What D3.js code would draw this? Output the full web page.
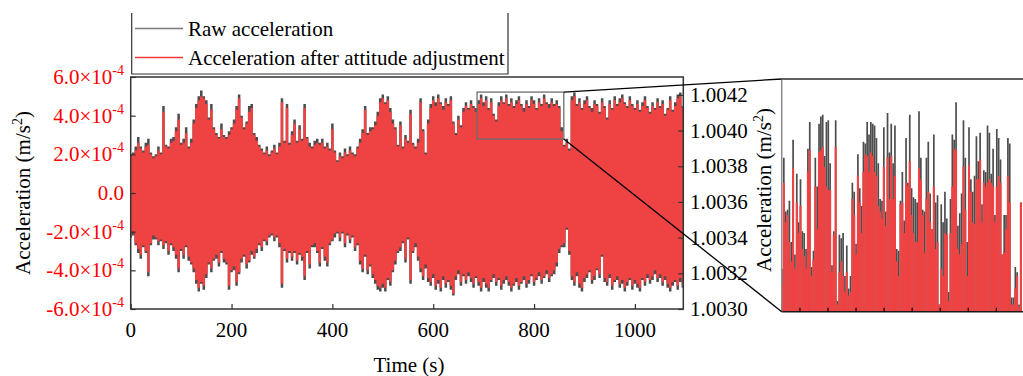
<!DOCTYPE html>
<html><head><meta charset="utf-8">
<script src="https://cdn.jsdelivr.net/npm/d3@7"></script>
<style>
body{margin:0;background:#fff}
text{font-family:"Liberation Serif","Times New Roman",serif}
</style>
</head><body>
<svg id="c" width="1023" height="376"></svg>
<script>
// ---------- DATA ----------
const unit = 1e-4;          // envelope values below are in units of 1e-4 m/s^2
const tStep = 5;            // seconds between envelope samples
const seriesNames = ["Raw acceleration", "Acceleration after attitude adjustment"];
// Upper / lower envelopes of the adjusted (red) signal
const adjUpper = [
1.9,2.0,2.2,2.6,2.3,2.1,2.4,2.5,2.0,1.8,
1.9,2.2,2.0,4.2,2.4,2.3,2.6,2.7,3.2,3.8,
2.5,2.6,3.1,2.3,2.6,3.6,4.4,4.8,5.0,4.9,
4.6,3.8,4.3,3.3,3.0,2.8,3.3,2.9,2.8,3.0,
3.3,3.6,4.3,4.9,3.9,3.3,3.6,4.2,4.4,3.0,
2.7,2.4,2.2,2.0,2.2,1.9,2.1,2.3,2.0,2.4,
4.7,2.6,4.4,2.5,3.0,3.6,2.6,3.3,2.7,4.4,
2.8,2.4,2.3,2.5,2.6,2.5,2.6,2.3,2.4,2.2,
3.3,2.1,1.6,1.9,1.8,2.1,1.9,2.2,2.0,1.9,
2.3,2.6,3.1,4.3,3.0,3.2,3.3,3.5,4.0,4.7,
4.9,4.6,4.8,4.2,3.6,3.3,2.4,3.5,2.3,2.8,
2.6,4.1,2.5,2.3,2.6,4.7,3.2,2.0,3.6,4.4,
4.8,4.5,4.9,4.6,4.3,4.7,4.5,4.8,3.6,3.0,
3.8,3.4,4.2,4.5,4.3,4.6,4.4,4.2,4.6,4.9,
4.5,4.8,4.3,4.7,4.0,3.7,4.5,4.8,4.6,4.9,
4.5,4.7,4.4,4.6,4.8,4.5,4.2,4.6,4.4,4.8,
4.6,4.3,4.7,4.5,4.9,4.6,4.4,4.7,4.5,4.6,
4.4,3.2,2.4,2.6,2.2,4.8,5.0,4.5,4.7,4.3,
4.6,4.8,4.4,4.2,4.6,4.5,4.1,4.7,4.4,3.8,
4.6,4.3,4.8,4.5,4.7,4.9,4.6,4.4,4.8,4.5,
4.3,4.6,4.2,4.5,4.8,4.4,4.1,4.5,4.3,4.7,
4.4,4.6,4.0,4.3,4.8,4.2,4.5,4.9,5.0,4.4];
const adjLower = [
-2.2,-2.0,-2.6,-2.9,-3.2,-2.7,-3.0,-4.1,-2.6,-2.2,
-2.3,-2.5,-2.4,-2.7,-2.5,-3.0,-2.6,-2.8,-3.2,-3.9,
-2.9,-3.2,-2.7,-3.3,-3.6,-3.9,-4.5,-4.9,-4.6,-4.8,
-4.2,-3.6,-3.9,-3.4,-3.2,-3.6,-3.0,-3.4,-3.6,-4.8,
-4.0,-3.8,-4.6,-4.1,-3.4,-3.2,-3.7,-3.5,-3.0,-3.3,
-2.9,-2.6,-2.8,-2.4,-2.5,-2.2,-2.1,-2.3,-2.2,-2.6,
-4.7,-2.9,-3.4,-3.0,-3.3,-3.0,-3.5,-3.1,-3.3,-4.3,
-3.0,-3.7,-2.7,-2.6,-3.0,-3.6,-2.8,-3.3,-3.6,-2.6,
-2.4,-2.1,-2.0,-2.3,-2.0,-2.6,-2.1,-2.4,-2.2,-2.8,
-2.6,-3.5,-3.9,-3.2,-4.0,-3.7,-4.2,-4.5,-4.8,-4.9,
-4.7,-4.9,-4.4,-4.6,-4.0,-3.5,-3.0,-2.8,-2.5,-3.4,
-2.3,-4.5,-3.0,-2.6,-3.3,-3.9,-4.3,-3.7,-4.4,-4.6,
-4.2,-4.8,-4.5,-4.9,-4.3,-4.7,-4.5,-4.8,-5.2,-4.3,
-4.0,-4.6,-4.2,-4.5,-4.1,-4.4,-4.7,-4.3,-4.6,-4.9,
-4.4,-4.7,-4.9,-4.5,-4.2,-4.6,-4.4,-4.8,-4.5,-4.3,
-4.6,-4.9,-4.7,-4.4,-4.8,-4.6,-4.3,-4.7,-4.5,-4.2,
-4.6,-4.4,-4.1,-4.5,-4.3,-4.0,-4.4,-4.2,-4.0,-3.6,
-2.9,-2.7,-2.6,-1.8,-3.0,-4.3,-4.6,-4.1,-4.7,-4.9,
-4.4,-4.2,-4.0,-4.5,-4.3,-3.9,-4.2,-3.2,-4.4,-4.6,
-4.2,-4.8,-4.5,-4.3,-4.7,-4.5,-4.9,-4.6,-4.4,-4.8,
-4.5,-4.7,-4.9,-4.4,-4.6,-4.2,-4.5,-4.3,-4.0,-4.4,
-4.2,-4.6,-4.3,-4.7,-4.9,-4.6,-4.5,-4.8,-4.4,-4.7];
// Upper / lower envelopes of the raw (grey) signal
const rawUpper = [
2.0,2.1,2.4,2.9,2.4,2.2,2.6,2.8,2.1,1.9,
2.0,2.4,2.1,4.5,2.5,2.4,2.8,2.9,3.4,4.1,
2.6,2.8,3.4,2.4,2.8,3.8,4.6,5.0,5.3,5.0,
4.8,3.9,4.6,3.4,3.1,2.9,3.6,3.0,2.9,3.2,
3.4,3.8,4.5,5.1,4.0,3.4,3.7,4.5,4.6,3.1,
2.9,2.5,2.3,2.1,2.4,2.0,2.2,2.5,2.1,2.6,
4.9,2.7,4.6,2.6,3.2,3.8,2.7,3.5,2.8,4.6,
2.9,2.6,2.4,2.7,2.8,2.6,2.8,2.4,2.6,2.3,
3.6,2.2,1.7,2.1,1.9,2.3,2.0,2.4,2.1,2.0,
2.4,2.8,3.3,4.5,3.1,3.4,3.4,3.7,4.2,4.9,
5.1,4.7,5.0,4.4,3.8,3.4,2.5,3.7,2.4,3.0,
2.7,4.3,2.6,2.4,2.8,4.9,3.3,2.1,3.8,4.6,
5.0,4.7,5.1,4.7,4.5,4.9,4.6,5.0,3.7,3.1,
4.0,3.5,4.4,4.7,4.4,4.8,4.5,4.4,4.8,5.1,
4.7,5.0,4.4,4.9,4.1,3.8,4.7,5.0,4.7,5.1,
4.6,4.9,4.5,4.8,5.0,4.6,4.4,4.8,4.5,5.0,
4.8,4.4,4.9,4.6,5.1,4.7,4.6,4.9,4.6,4.8,
4.5,3.4,2.5,2.8,2.3,5.0,5.2,4.6,4.9,4.4,
4.8,5.0,4.5,4.4,4.8,4.6,4.2,4.9,4.5,3.9,
4.8,4.4,5.0,4.6,4.9,5.1,4.7,4.5,5.0,4.6,
4.4,4.8,4.3,4.7,5.0,4.5,4.2,4.7,4.4,4.9,
4.5,4.8,4.1,4.4,5.0,4.3,4.7,5.1,5.2,4.5];
const rawLower = [
-2.3,-2.2,-2.7,-3.1,-3.4,-2.8,-3.1,-4.3,-2.7,-2.4,
-2.4,-2.7,-2.5,-2.9,-2.6,-3.2,-2.7,-3.0,-3.4,-4.1,
-3.0,-3.4,-2.8,-3.5,-3.7,-4.1,-4.7,-5.1,-4.7,-5.0,
-4.4,-3.7,-4.1,-3.5,-3.4,-3.8,-3.1,-3.6,-3.7,-5.0,
-4.1,-4.0,-4.8,-4.2,-3.6,-3.3,-3.9,-3.6,-3.2,-3.4,
-3.1,-2.7,-3.0,-2.5,-2.7,-2.3,-2.2,-2.5,-2.3,-2.8,
-4.9,-3.0,-3.6,-3.1,-3.5,-3.1,-3.7,-3.2,-3.5,-4.5,
-3.1,-3.9,-2.8,-2.8,-3.1,-3.8,-2.9,-3.5,-3.8,-2.7,
-2.5,-2.3,-2.1,-2.5,-2.1,-2.8,-2.2,-2.6,-2.3,-3.0,
-2.7,-3.7,-4.1,-3.3,-4.2,-3.8,-4.4,-4.7,-5.0,-5.1,
-4.9,-5.1,-4.5,-4.8,-4.1,-3.7,-3.1,-3.0,-2.6,-3.6,
-2.4,-4.7,-3.1,-2.8,-3.5,-4.1,-4.5,-3.9,-4.6,-4.8,
-4.4,-5.0,-4.7,-5.1,-4.5,-4.9,-4.6,-5.0,-5.3,-4.5,
-4.2,-4.8,-4.3,-4.7,-4.3,-4.6,-4.9,-4.4,-4.8,-5.1,
-4.6,-4.9,-5.1,-4.6,-4.4,-4.8,-4.5,-5.0,-4.7,-4.5,
-4.8,-5.1,-4.8,-4.6,-5.0,-4.7,-4.5,-4.9,-4.7,-4.3,
-4.8,-4.5,-4.3,-4.7,-4.4,-4.2,-4.6,-4.3,-4.2,-3.8,
-3.1,-2.8,-2.8,-1.9,-3.2,-4.5,-4.8,-4.3,-4.9,-5.1,
-4.6,-4.4,-4.1,-4.7,-4.5,-4.0,-4.4,-3.3,-4.6,-4.8,
-4.4,-5.0,-4.6,-4.5,-4.9,-4.7,-5.1,-4.8,-4.5,-5.0,
-4.7,-4.9,-5.1,-4.5,-4.8,-4.4,-4.7,-4.5,-4.2,-4.6,
-4.4,-4.8,-4.5,-4.9,-5.1,-4.8,-4.6,-5.0,-4.6,-4.9];

const timeTicks = [0, 200, 400, 600, 800, 1000];
const leftTicks = [-6, -4, -2, 0, 2, 4, 6];                 // x 1e-4
const rightTicks = [1.0030, 1.0032, 1.0034, 1.0036, 1.0038, 1.0040, 1.0042];
const timeDomain = [0, 1096];
const zoomTime = [687, 859];                                // zoomed window (s)
const zoomAcc = [2.79, 5.22];                               // zoomed window (x 1e-4)
const insetDomain = [1.0030, 1.0043];
const insetTicks = [700, 720, 740, 760, 780, 800, 820, 840];
const insetT0 = 687.2, insetDt = 1.32;                      // sample grid of inset peaks
const insetRawPeaks = [
1.00324,1.00386,1.00356,1.00357,1.00362,1.00339,1.00396,1.00332,1.00377,1.00350,
1.00374,1.00345,1.00344,1.00335,1.00391,1.00406,1.00325,1.00334,1.00386,1.00370,
1.00405,1.00409,1.00410,1.00387,1.00406,1.00407,1.00383,1.00326,1.00345,1.00407,
1.00306,1.00343,1.00341,1.00344,1.00320,1.00337,1.00313,1.00320,1.00372,1.00367,
1.00338,1.00388,1.00369,1.00359,1.00395,1.00394,1.00406,1.00399,1.00406,1.00405,
1.00404,1.00397,1.00383,1.00363,1.00362,1.00403,1.00356,1.00411,1.00389,1.00405,
1.00383,1.00404,1.00335,1.00334,1.00362,
1.00378,1.00351,1.00397,1.00372,1.00410,1.00369,1.00364,1.00363,1.00361,1.00412,
1.00386,1.00357,1.00356,1.00386,1.00395,1.00366,1.00346,1.00399,1.00361,1.00365,
1.00304,1.00360,1.00350,1.00367,1.00352,1.00311,1.00363,1.00399,1.00396,1.00417,
1.00348,1.00355,1.00366,1.00407,1.00386,1.00339,1.00403,1.00374,1.00367,1.00376,
1.00398,1.00384,1.00400,1.00360,1.00379,1.00378,1.00404,1.00400,1.00377,1.00391,
1.00354,1.00402,1.00397,1.00385,1.00332,1.00354,1.00354,1.00397,1.00394,1.00308,
1.00308,1.00325,1.00322,1.00304,1.00361];
const insetAdjPeaks = [
1.00315,1.00372,1.00350,1.00354,1.00339,1.00328,1.00380,1.00324,1.00361,1.00344,
1.00359,1.00335,1.00331,1.00324,1.00378,1.00390,1.00320,1.00329,1.00370,1.00346,
1.00389,1.00390,1.00392,1.00381,1.00370,1.00368,1.00368,1.00322,1.00343,1.00392,
1.00304,1.00322,1.00328,1.00320,1.00311,1.00322,1.00309,1.00311,1.00363,1.00354,
1.00332,1.00376,1.00361,1.00344,1.00378,1.00388,1.00387,1.00378,1.00389,1.00387,
1.00378,1.00376,1.00359,1.00356,1.00352,1.00381,1.00348,1.00386,1.00363,1.00387,
1.00363,1.00376,1.00328,1.00320,1.00360,
1.00361,1.00344,1.00372,1.00370,1.00384,1.00354,1.00344,1.00339,1.00339,1.00380,
1.00374,1.00354,1.00333,1.00363,1.00367,1.00350,1.00346,1.00370,1.00335,1.00339,
1.00304,1.00324,1.00320,1.00344,1.00343,1.00306,1.00344,1.00370,1.00391,1.00390,
1.00335,1.00332,1.00338,1.00381,1.00357,1.00320,1.00382,1.00367,1.00350,1.00349,
1.00374,1.00374,1.00385,1.00350,1.00372,1.00370,1.00372,1.00374,1.00372,1.00370,
1.00350,1.00370,1.00376,1.00372,1.00332,1.00333,1.00346,1.00376,1.00361,1.00304,
1.00304,1.00313,1.00320,1.00302,1.00361];

// ---------- STYLE ----------
const RED = "#ef4242", GREY = "#4d4d4d", FRAME = "#333";
const FS = 21;

const svg = d3.select("#c");
const L = 130.7, R = 683.3, T = 77, B = 309;
const x = d3.scaleLinear(timeDomain, [L, R]);
const y = d3.scaleLinear([-6 * unit, 6 * unit], [B, T]);
const yR = d3.scaleLinear([1.0030, 1.0043], [B, T]);

const defs = svg.append("defs");
defs.append("clipPath").attr("id", "mainClip").append("rect")
  .attr("x", L).attr("y", T).attr("width", R - L).attr("height", B - T);

// ---------- main signal ----------
function envelope(up, lo) {
  return up.map((u, i) => ({t: i * tStep, hi: u * unit, lo: lo[i] * unit}));
}
const area = d3.area().curve(d3.curveStep).x(d => x(d.t)).y0(d => y(d.lo)).y1(d => y(d.hi));
const gMain = svg.append("g").attr("clip-path", "url(#mainClip)");
gMain.append("path").datum(envelope(rawUpper, rawLower)).attr("d", area)
  .attr("fill", GREY);
gMain.append("path").datum(envelope(adjUpper, adjLower)).attr("d", area)
  .attr("fill", RED);

// frame
svg.append("rect").attr("x", L).attr("y", T).attr("width", R - L).attr("height", B - T)
  .attr("fill", "none").attr("stroke", FRAME).attr("stroke-width", 1.5);

// bottom axis (inward ticks)
const gx = svg.append("g").attr("transform", `translate(0,${B})`)
  .call(d3.axisBottom(x).tickValues(timeTicks).tickSizeInner(-5).tickSizeOuter(0).tickFormat(""));
gx.select(".domain").remove();
gx.selectAll("line").attr("stroke", FRAME).attr("stroke-width", 1.2);
svg.append("g").selectAll("text").data(timeTicks).join("text")
  .attr("x", d => x(d)).attr("y", 337).attr("text-anchor", "middle")
  .attr("font-size", FS).attr("fill", "#000").text(d => d);
svg.append("text").attr("x", (L + R) / 2 + 2).attr("y", 372).attr("text-anchor", "middle")
  .attr("font-size", FS).text("Time (s)");

// left axis
const gy = svg.append("g").attr("transform", `translate(${L},0)`)
  .call(d3.axisLeft(y).tickValues(leftTicks.map(v => v * unit)).tickSizeInner(-5).tickSizeOuter(0).tickFormat(""));
gy.select(".domain").remove();
gy.selectAll("line").attr("stroke", FRAME).attr("stroke-width", 1.2);
const lt = svg.append("g").selectAll("text").data(leftTicks).join("text")
  .attr("x", 124).attr("y", d => y(d * unit) + 7).attr("text-anchor", "end")
  .attr("font-size", FS).attr("fill", "#ff0000");
lt.each(function(d) {
  const s = d3.select(this);
  if (d === 0) { s.text("0.0"); return; }
  s.append("tspan").text(d.toFixed(1) + "×10");
  s.append("tspan").attr("dy", -9).attr("font-size", 14).text("-4");
});
const ttl = svg.append("text").attr("transform", `translate(30,${(T + B) / 2}) rotate(-90)`)
  .attr("text-anchor", "middle").attr("font-size", FS);
ttl.append("tspan").text("Acceleration (m/s");
ttl.append("tspan").attr("dy", -8).attr("font-size", 14).text("2");
ttl.append("tspan").attr("dy", 8).text(")");

// right axis
const gr = svg.append("g").attr("transform", `translate(${R},0)`)
  .call(d3.axisRight(yR).tickValues(rightTicks).tickSizeInner(-5).tickSizeOuter(0).tickFormat(""));
gr.select(".domain").remove();
gr.selectAll("line").attr("stroke", FRAME).attr("stroke-width", 1.2);
svg.append("g").selectAll("text").data(rightTicks).join("text")
  .attr("x", 690).attr("y", d => yR(d) + 7).attr("font-size", FS).text(d => d.toFixed(4));
const ttr = svg.append("text").attr("transform", `translate(771,190) rotate(-90)`)
  .attr("text-anchor", "middle").attr("font-size", FS);
ttr.append("tspan").text("Acceleration (m/s");
ttr.append("tspan").attr("dy", -8).attr("font-size", 14).text("2");
ttr.append("tspan").attr("dy", 8).text(")");

// zoom rectangle on main plot
const rx0 = x(zoomTime[0]), rx1 = x(zoomTime[1]);
const ry0 = y(zoomAcc[1] * unit), ry1 = y(zoomAcc[0] * unit);
svg.append("rect").attr("x", rx0).attr("y", ry0).attr("width", rx1 - rx0).attr("height", ry1 - ry0)
  .attr("fill", "none").attr("stroke", "#6e6e6e").attr("stroke-width", 1.3);

// ---------- inset ----------
const IL = 781.7, IR = 1023, IT = 79, IB = 311.7;
const xI = d3.scaleLinear(zoomTime, [IL, IR]);
const yI = d3.scaleLinear(insetDomain, [IB, IT]);
defs.append("clipPath").attr("id", "insetClip").append("rect")
  .attr("x", IL).attr("y", IT).attr("width", IR - IL).attr("height", IB - IT);
const gI = svg.append("g").attr("clip-path", "url(#insetClip)");
const stem = (arr) => arr.map((p, i) => ({t: insetT0 + i * insetDt, p}));
gI.append("g").selectAll("line").data(stem(insetRawPeaks)).join("line")
  .attr("x1", d => xI(d.t)).attr("x2", d => xI(d.t))
  .attr("y1", IB + 2).attr("y2", d => yI(d.p))
  .attr("stroke", GREY).attr("stroke-width", 1.7);
gI.append("g").selectAll("line").data(stem(insetAdjPeaks)).join("line")
  .attr("x1", d => xI(d.t)).attr("x2", d => xI(d.t))
  .attr("y1", IB + 2).attr("y2", d => yI(d.p))
  .attr("stroke", RED).attr("stroke-width", 2.1);
// inset frame
svg.append("line").attr("x1", IL).attr("x2", IR).attr("y1", IT).attr("y2", IT)
  .attr("stroke", "#2a2a2a").attr("stroke-width", 1.5);
svg.append("line").attr("x1", IL).attr("x2", IR).attr("y1", IB).attr("y2", IB)
  .attr("stroke", "#1a1a1a").attr("stroke-width", 1.5);
svg.append("line").attr("x1", IL).attr("x2", IL).attr("y1", IT).attr("y2", IB)
  .attr("stroke", "#8a8a8a").attr("stroke-width", 1.5);
svg.append("g").selectAll("line").data(insetTicks).join("line")
  .attr("x1", d => xI(d)).attr("x2", d => xI(d)).attr("y1", IB).attr("y2", IB - 4)
  .attr("stroke", "#000").attr("stroke-width", 1.2);

// connector lines
svg.append("line").attr("x1", rx1).attr("y1", ry0).attr("x2", IL).attr("y2", IT)
  .attr("stroke", "#000").attr("stroke-width", 1.3);
svg.append("line").attr("x1", rx1).attr("y1", ry1).attr("x2", IL).attr("y2", IB)
  .attr("stroke", "#000").attr("stroke-width", 1.3);

// ---------- legend ----------
const lg = svg.append("g");
lg.append("path").attr("d", "M131.7,13 L131.7,74 L508,74 L508,13")
  .attr("fill", "none").attr("stroke", FRAME).attr("stroke-width", 1.2);
const legendColors = ["#7a7a7a", "#ee3a3a"];
seriesNames.forEach((n, i) => {
  const yy = 28.5 + i * 29;
  lg.append("line").attr("x1", 135).attr("x2", 183).attr("y1", yy).attr("y2", yy)
    .attr("stroke", legendColors[i]).attr("stroke-width", 1.3);
  lg.append("text").attr("x", 188).attr("y", yy + 7.5).attr("font-size", FS).text(n);
});
</script>
</body></html>
